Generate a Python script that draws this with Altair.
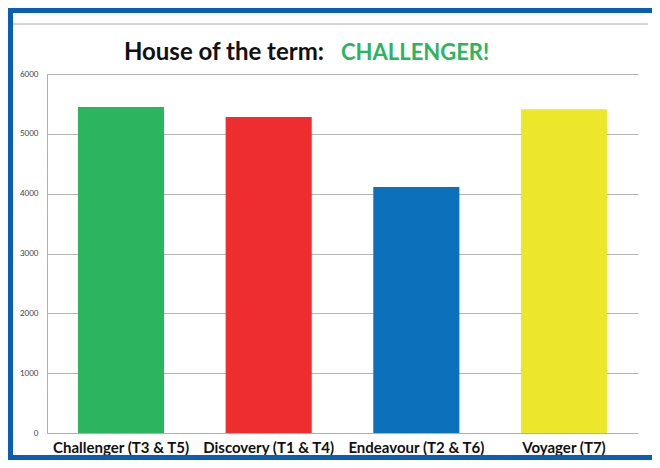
import altair as alt
import pandas as pd

categories = ["Challenger (T3 & T5)", "Discovery (T1 & T4)", "Endeavour (T2 & T6)", "Voyager (T7)"]
points = [5450, 5280, 4110, 5410]
bar_colors = ["#2db45e", "#ee2e2e", "#0c70bb", "#ece72a"]
title_black = "House of the term:"
title_green = "CHALLENGER!"
y_ticks = [0, 1000, 2000, 3000, 4000, 5000, 6000]

W, H = 591, 359
PAD_L, PAD_T, PAD_R, PAD_B = 39, 66, 14, 27

df = pd.DataFrame({"house": categories, "points": points})
one = pd.DataFrame({"a": [0]})

bars = alt.Chart(df).mark_bar().encode(
    x=alt.X("house:N", sort=categories, title=None,
            scale=alt.Scale(paddingInner=0.417, paddingOuter=0.21),
            axis=alt.Axis(labelAngle=0, labelFontSize=15, labelFont="Lato",
                          labelFontWeight="bold", labelColor="#111111",
                          labelPadding=7, ticks=False, domain=True,
                          domainColor="#b0b0b0", labelLimit=300)),
    y=alt.Y("points:Q", title=None,
            scale=alt.Scale(domain=[0, 6000], nice=False),
            axis=alt.Axis(values=y_ticks, format="d", labelFontSize=8, labelFont="Lato",
                          labelColor="#404040", labelPadding=9, ticks=False,
                          grid=True, gridColor="#b5b5b5", domain=True,
                          domainColor="#b0b0b0")),
    color=alt.Color("house:N", sort=categories,
                    scale=alt.Scale(domain=categories, range=bar_colors),
                    legend=None),
)

t1 = alt.Chart(one).mark_text(
    text=title_black, align="right", baseline="alphabetic",
    font="Lato", fontSize=24, fontWeight="bold", color="#111111"
).encode(x=alt.value(277), y=alt.value(-14))

t2 = alt.Chart(one).mark_text(
    text=title_green, align="left", baseline="alphabetic",
    font="Lato", fontSize=22, fontWeight="bold", color="#2db45e"
).encode(x=alt.value(294), y=alt.value(-14))

top_rule = alt.Chart(one).mark_rule(color="#a8a8a8", strokeWidth=1).encode(
    x=alt.value(-35), x2=alt.value(601), y=alt.value(-50)
)

BLUE = "#0a5fb4"
b_top = alt.Chart(one).mark_rule(color=BLUE, strokeWidth=5).encode(
    x=alt.value(-PAD_L), x2=alt.value(W + PAD_R), y=alt.value(-PAD_T + 2.5)
)
b_left = alt.Chart(one).mark_rule(color=BLUE, strokeWidth=5).encode(
    x=alt.value(-PAD_L + 2.5), y=alt.value(-PAD_T), y2=alt.value(H + PAD_B)
)
b_bottom = alt.Chart(one).mark_rule(color=BLUE, strokeWidth=5).encode(
    x=alt.value(-PAD_L), x2=alt.value(W + PAD_R), y=alt.value(H + PAD_B - 2.5)
)

chart = alt.layer(bars, top_rule, t1, t2, b_top, b_left, b_bottom).properties(
    width=W, height=H,
    autosize=alt.AutoSizeParams(type="none"),
    padding={"left": PAD_L, "top": PAD_T, "right": PAD_R, "bottom": PAD_B},
    background="white",
).configure_view(stroke=None)

chart.save("out.html", embed_options={"renderer": "svg", "actions": False})
